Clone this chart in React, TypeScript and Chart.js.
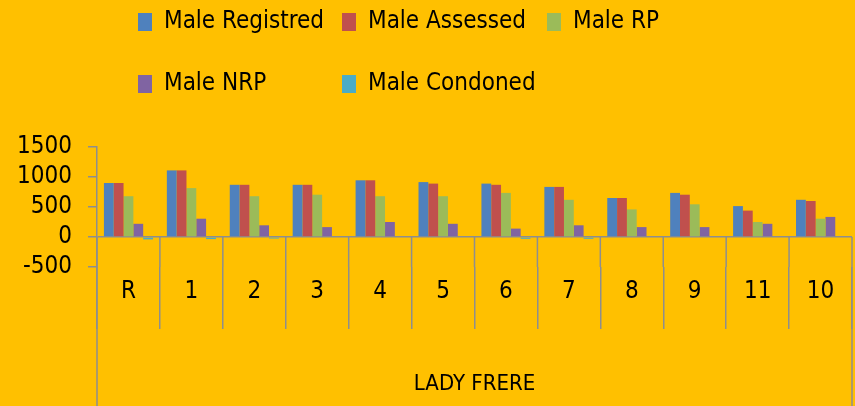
import React, { useEffect, useRef } from 'react';
import { Chart, registerables } from 'chart.js';

Chart.register(...registerables);

const categories = ['R', '1', '2', '3', '4', '5', '6', '7', '8', '9', '11', '10'];
const seriesLabels = ['Male Registred', 'Male Assessed', 'Male RP', 'Male NRP', 'Male Condoned'];
const maleRegistred = [900, 1110, 870, 870, 945, 915, 890, 835, 650, 735, 515, 620];
const maleAssessed = [900, 1110, 870, 870, 945, 890, 870, 835, 650, 705, 440, 600];
const maleRP = [680, 815, 680, 705, 680, 680, 735, 620, 460, 545, 250, 305];
const maleNRP = [220, 305, 195, 165, 250, 220, 140, 195, 165, 165, 220, 335];
const maleCondoned = [-40, -35, -25, 0, 0, 0, -30, -30, 0, 0, 0, 0];
const yMin = -500;
const yMax = 1500;
const yStep = 500;
const groupLabel = 'LADY FRERE';

const seriesColors = ['#4F81BD', '#C0504D', '#9BBB59', '#8064A2', '#4BACC6'];
const BG = '#FFC000';
const AXIS = '#8e8e8e';
const FONT = "'Liberation Sans Narrow', 'DejaVu Sans Condensed', 'Liberation Sans', sans-serif";

const legendPlugin = {
  id: 'customLegend',
  afterDraw(chart: any) {
    const { ctx } = chart;
    const cols = [138, 342, 547];
    const rows = [22, 84];
    ctx.save();
    ctx.font = `24px ${FONT}`;
    ctx.textBaseline = 'middle';
    ctx.textAlign = 'left';
    chart.data.datasets.forEach((ds: any, i: number) => {
      const col = i < 3 ? i : i - 3;
      const row = i < 3 ? 0 : 1;
      const x = cols[col];
      const y = rows[row];
      ctx.fillStyle = ds.backgroundColor;
      ctx.fillRect(x, y - 9, 14, 18);
      ctx.fillStyle = '#000';
      ctx.fillText(ds.label, x + 26, y);
    });
    ctx.restore();
  },
};

const dividerPlugin = {
  id: 'dividers',
  afterDatasetsDraw(chart: any) {
    const { ctx, chartArea, scales } = chart;
    const xs = scales.x;
    const ys = scales.y;
    const n = xs.ticks.length;
    const half = (xs.getPixelForValue(1) - xs.getPixelForValue(0)) / 2;
    const zeroY = ys.getPixelForValue(0);
    ctx.save();
    ctx.strokeStyle = AXIS;
    ctx.lineWidth = 1.5;
    for (let i = 0; i <= n; i++) {
      const px = i === n ? xs.getPixelForValue(n - 1) + half : xs.getPixelForValue(i) - half;
      const bottom = i === 0 || i === n ? chart.height : chartArea.bottom;
      ctx.beginPath();
      ctx.moveTo(px, zeroY);
      ctx.lineTo(px, bottom);
      ctx.stroke();
    }
    ctx.restore();
  },
};

export default function App() {
  const canvasRef = useRef<HTMLCanvasElement | null>(null);

  useEffect(() => {
    document.body.style.margin = '0';
    const canvas = canvasRef.current;
    if (!canvas) return;
    const values = [maleRegistred, maleAssessed, maleRP, maleNRP, maleCondoned];
    const chart = new Chart(canvas, {
      type: 'bar',
      data: {
        labels: categories,
        datasets: seriesLabels.map((label, i) => ({
          label,
          data: values[i],
          backgroundColor: seriesColors[i],
          borderWidth: 0,
          categoryPercentage: 0.78,
          barPercentage: 1,
        })),
      },
      options: {
        responsive: false,
        animation: false,
        layout: { padding: { top: 147, left: 0, right: 3, bottom: 0 } },
        plugins: {
          legend: { display: false },
          tooltip: { enabled: false },
        },
        scales: {
          x: {
            position: 'bottom',
            afterFit(scale: any) {
              scale.height = 139;
            },
            grid: {
              offset: true,
              drawOnChartArea: false,
              drawTicks: true,
              tickLength: 62,
              color: AXIS,
              lineWidth: 1.5,
            },
            border: { display: false },
            ticks: {
              color: '#000',
              font: { family: FONT, size: 24 },
              padding: -52,
              maxRotation: 0,
              autoSkip: false,
            },
            title: {
              display: true,
              text: groupLabel,
              color: '#000',
              font: { family: FONT, size: 22 },
              padding: { top: 0, bottom: 9 },
            },
          },
          y: {
            min: yMin,
            max: yMax,
            afterFit(scale: any) {
              scale.width = 97;
            },
            grid: {
              color: (c: any) => (c.tick && c.tick.value === 0 ? AXIS : 'rgba(0,0,0,0)'),
              tickColor: AXIS,
              tickLength: 9,
              lineWidth: 1.5,
              drawTicks: true,
            },
            border: { display: true, color: AXIS, width: 1.5 },
            ticks: {
              stepSize: yStep,
              autoSkip: false,
              color: '#000',
              font: { family: FONT, size: 24 },
              padding: 16,
              callback: (v: any) => String(v),
            },
          },
        },
      },
      plugins: [dividerPlugin, legendPlugin],
    });
    return () => chart.destroy();
  }, []);

  return (
    <div style={{ width: 855, height: 406, background: BG }}>
      <canvas ref={canvasRef} width={855} height={406} style={{ display: 'block' }} />
    </div>
  );
}
